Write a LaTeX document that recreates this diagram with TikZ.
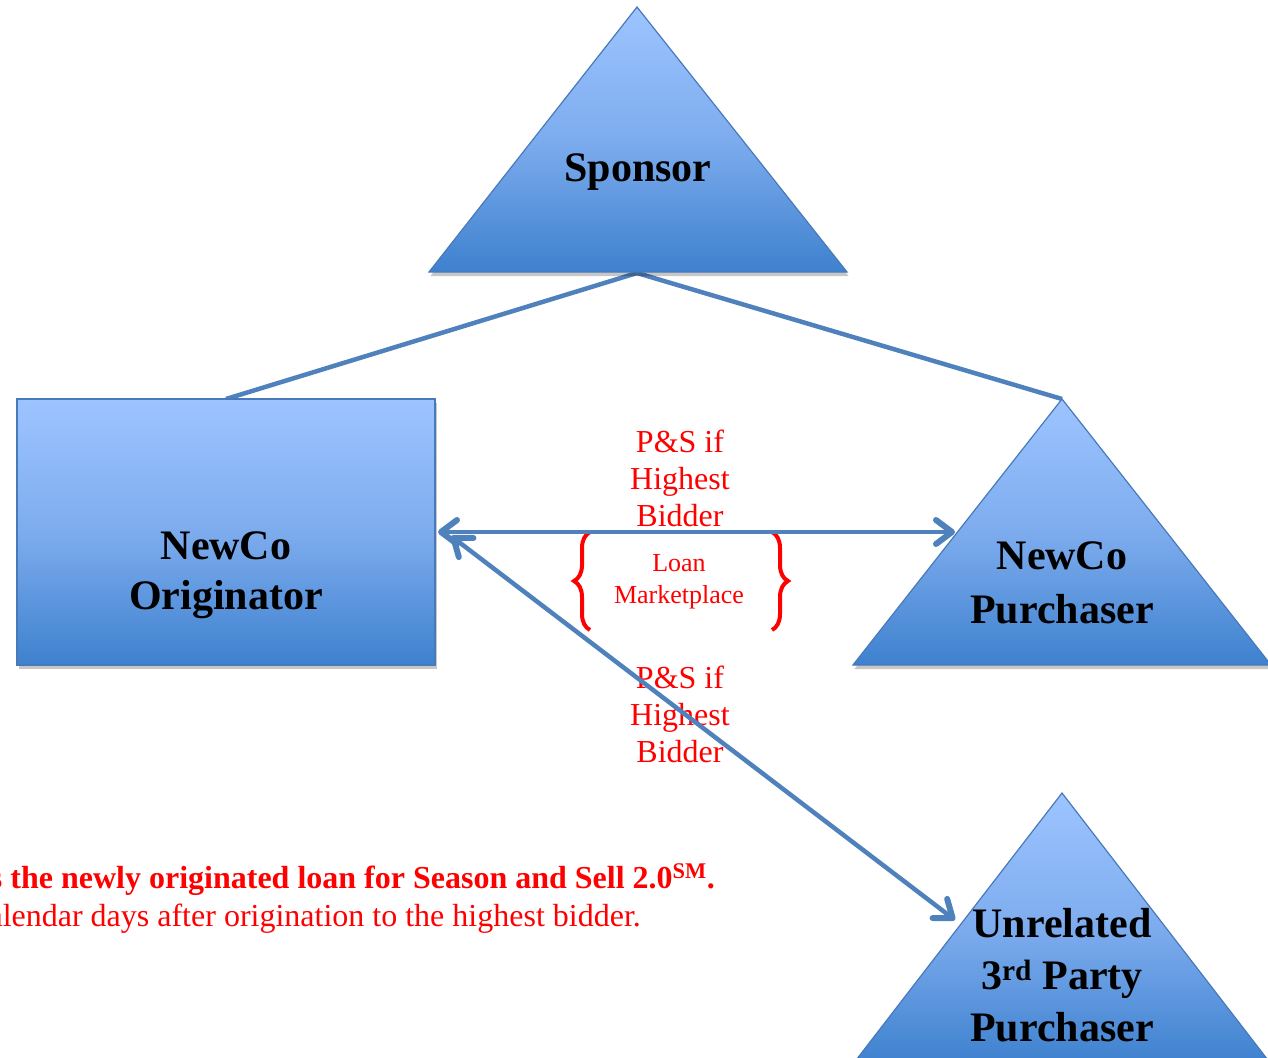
\documentclass[tikz,border=0pt]{standalone}
\usepackage{fontspec}
\setmainfont{Liberation Serif}
\usetikzlibrary{arrows.meta,shadows,decorations.pathreplacing}
\definecolor{lnblue}{RGB}{79,129,189}
\definecolor{topblue}{RGB}{157,196,255}
\definecolor{midblue}{RGB}{125,172,238}
\definecolor{botblue}{RGB}{62,129,206}
\definecolor{edgeblue}{RGB}{72,122,186}
\begin{document}
\begin{tikzpicture}[x=1pt,y=-1pt,
  shapefill/.style={top color=topblue,bottom color=botblue,middle color=midblue,draw=edgeblue,line width=1.2pt,
    drop shadow={shadow xshift=1.5pt,shadow yshift=-4pt,opacity=0.22,fill=black}},
  conn/.style={draw=lnblue,line width=4.5pt},
  tipb/.tip={Straight Barb[length=16pt,width=24pt,line width=6pt,round]},
  dbl/.style={conn,line cap=round,tipb-tipb},
  boxtext/.style={font=\fontsize{42}{50}\selectfont\bfseries,align=center,text=black,inner sep=0pt},
  redlbl/.style={font=\fontsize{32}{37}\selectfont,align=center,text=red,inner sep=0pt},
  bracestyle/.style={draw=red,line width=4pt,decorate,decoration={brace,amplitude=16pt}}]
\useasboundingbox (0,0) rectangle (1268,1057);
\clip (0,0) rectangle (1268,1057);

% key points
\coordinate (spA) at (637,7);
\coordinate (spL) at (429,272);
\coordinate (spR) at (847,272);
\coordinate (spB) at (637,273);
\coordinate (puA) at (1062,399);
\coordinate (puL) at (853,665);
\coordinate (puR) at (1271,665);
\coordinate (unA) at (1062,793);
\coordinate (unL) at (853,1064);
\coordinate (unR) at (1271,1064);

% lines from sponsor
\draw[conn] (spB) -- (226,399) coordinate (origTop);
\draw[conn] (spB) -- (puA);

% shapes
\path[shapefill] (spA) -- (spR) -- (spL) -- cycle;
\node[shapefill,minimum width=418pt,minimum height=266pt,inner sep=0pt] (orig) at (226,532) {};
\path[shapefill] (puA) -- (puR) -- (puL) -- cycle;
\path[shapefill] (unA) -- (unR) -- (unL) -- cycle;

% shape texts
\node[boxtext] (sponsor) at (638,172) {Sponsor};
\node[boxtext] (origtxt) at (226,575) {NewCo\\Originator};
\node[boxtext,font=\fontsize{42}{54}\selectfont\bfseries] (purtxt) at (1062,583) {NewCo\\Purchaser};
\node[boxtext,font=\fontsize{42}{52}\selectfont\bfseries] (untxt) at (1062,975) {Unrelated\\3\textsuperscript{rd} Party\\Purchaser};

% red labels
\node[redlbl] (ps1) at (680,478) {P\&S if\\Highest\\Bidder};
\node[redlbl] (ps2) at (680,714) {P\&S if\\Highest\\Bidder};
\node[redlbl,font=\fontsize{26}{32}\selectfont] (loan) at (679,582) {Loan\\Marketplace};

% braces
\coordinate (lbB) at (590,630);
\coordinate (lbT) at (590,532);
\coordinate (rbT) at (772,532);
\coordinate (rbB) at (772,630);
\draw[bracestyle] (lbB) -- (lbT);
\draw[bracestyle] (rbT) -- (rbB);

% arrows
\coordinate (hL) at (438,532);
\coordinate (hR) at (955,532);
\coordinate (dL) at (451,536);
\coordinate (dR) at (955,920);
\draw[dbl] (hL) -- (hR);
\draw[dbl] (dL) -- (dR);

% bottom text
\node[anchor=base east,inner sep=0pt,text=red,font=\fontsize{32}{37}\selectfont\bfseries] (note1) at (715,888)
  {s the newly originated loan for Season and Sell 2.0\textsuperscript{SM}.};
\node[anchor=base east,inner sep=0pt,text=red,font=\fontsize{32}{37}\selectfont] (note2) at (641,926)
  {alendar days after origination to the highest bidder.};
\end{tikzpicture}
\end{document}
